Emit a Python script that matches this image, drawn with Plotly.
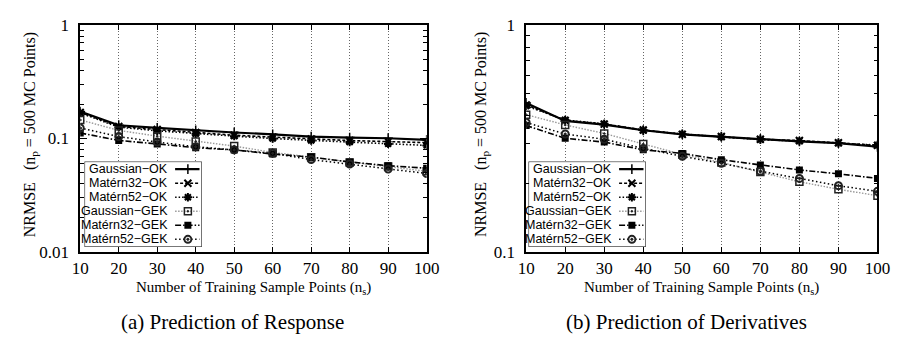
import plotly.graph_objects as go

W, H = 909, 349
x_vals = [10, 20, 30, 40, 50, 60, 70, 80, 90, 100]
series_names = ["Gaussian−OK", "Matérn32−OK", "Matérn52−OK",
                "Gaussian−GEK", "Matérn32−GEK", "Matérn52−GEK"]

# (a) Prediction of Response
resp_gauss_ok = [0.173, 0.131, 0.124, 0.118, 0.113, 0.109, 0.104, 0.102, 0.1006, 0.0975]
resp_mat32_ok = [0.170, 0.128, 0.120, 0.113, 0.107, 0.103, 0.099, 0.096, 0.094, 0.092]
resp_mat52_ok = [0.168, 0.126, 0.117, 0.110, 0.105, 0.100, 0.096, 0.093, 0.090, 0.087]
resp_gauss_gek = [0.146, 0.118, 0.105, 0.0944, 0.0858, 0.0755, 0.0685, 0.0615, 0.0566, 0.0514]
resp_mat32_gek = [0.112, 0.0962, 0.0897, 0.083, 0.0794, 0.0731, 0.0685, 0.0622, 0.0576, 0.0548]
resp_mat52_gek = [0.124, 0.104, 0.0932, 0.0847, 0.0794, 0.0741, 0.0652, 0.0596, 0.0538, 0.0492]

# (b) Prediction of Derivatives
der_gauss_ok = [0.454, 0.378, 0.364, 0.344, 0.330, 0.322, 0.315, 0.307, 0.302, 0.291]
der_mat32_ok = [0.445, 0.380, 0.366, 0.345, 0.330, 0.323, 0.314, 0.310, 0.303, 0.295]
der_mat52_ok = [0.440, 0.382, 0.367, 0.344, 0.331, 0.322, 0.313, 0.308, 0.302, 0.296]
der_gauss_gek = [0.403, 0.363, 0.333, 0.299, 0.269, 0.248, 0.225, 0.204, 0.189, 0.177]
der_mat32_gek = [0.361, 0.317, 0.305, 0.282, 0.272, 0.255, 0.242, 0.230, 0.221, 0.211]
der_mat52_gek = [0.372, 0.331, 0.314, 0.286, 0.264, 0.246, 0.227, 0.211, 0.196, 0.185]

resp = [resp_gauss_ok, resp_mat32_ok, resp_mat52_ok, resp_gauss_gek, resp_mat32_gek, resp_mat52_gek]
der = [der_gauss_ok, der_mat32_ok, der_mat52_ok, der_gauss_gek, der_mat32_gek, der_mat52_gek]

styles = [
    dict(line=dict(color="black", width=2.2, dash="solid"),
         marker=dict(symbol="cross-thin-open", size=7, color="black", line=dict(width=1.5, color="black"))),
    dict(line=dict(color="black", width=1.6, dash="3px,2px"),
         marker=dict(symbol="x-thin-open", size=7, color="black", line=dict(width=2, color="black"))),
    dict(line=dict(color="black", width=1.6, dash="1.5px,2px"),
         marker=dict(symbol="asterisk-open", size=7, color="black", line=dict(width=2, color="black"))),
    dict(line=dict(color="#999999", width=1.4, dash="1.5px,1.5px"),
         marker=dict(symbol="square-open-dot", size=7, color="#222222", line=dict(width=1.5, color="#222222"))),
    dict(line=dict(color="black", width=1.6, dash="6px,2px,1.5px,2px"),
         marker=dict(symbol="square", size=7, color="black", line=dict(width=0))),
    dict(line=dict(color="black", width=1.5, dash="1.5px,2.5px"),
         marker=dict(symbol="circle-open-dot", size=7, color="#222222", line=dict(width=2, color="#222222"))),
]

fig = go.Figure()
for i, name in enumerate(series_names):
    fig.add_trace(go.Scatter(x=x_vals, y=resp[i], mode="lines+markers", name=name,
                             showlegend=False, xaxis="x", yaxis="y", **styles[i]))
    fig.add_trace(go.Scatter(x=x_vals, y=der[i], mode="lines+markers", name=name,
                             showlegend=False, xaxis="x2", yaxis="y2", **styles[i]))

# custom legend samples (text left, sample right)
for i, name in enumerate(series_names):
    yy = 5.5 - i
    for ax in ("3", "4"):
        fig.add_trace(go.Scatter(x=[0.775, 0.885, 0.985], y=[yy, yy, yy], mode="lines",
                                 line=styles[i]["line"], showlegend=False, hoverinfo="skip",
                                 xaxis="x" + ax, yaxis="y" + ax))
        fig.add_trace(go.Scatter(x=[0.885], y=[yy], mode="markers", marker=styles[i]["marker"],
                                 showlegend=False, hoverinfo="skip",
                                 xaxis="x" + ax, yaxis="y" + ax))

serif = "Liberation Serif"
sans = "Liberation Sans"
ydom = [1 - 257 / H, 1 - 17 / H]

def xaxis(dom):
    return dict(domain=dom, range=[10, 100], tickvals=x_vals,
                ticktext=[str(v) for v in x_vals], showgrid=True, griddash="1px,2px",
                gridcolor="#666666", gridwidth=1, ticks="inside", ticklen=5,
                tickcolor="black", showline=True, linecolor="black", linewidth=1.5,
                mirror="ticks", tickfont=dict(family=serif, size=17, color="black"),
                zeroline=False)

def yaxis(dom, rng, tv, tt, minor_vals, anchor):
    return dict(domain=dom, type="log", range=rng, tickvals=tv, ticktext=tt,
                showgrid=False, ticks="inside", ticklen=7, tickcolor="black",
                showline=True, linecolor="black", linewidth=1.5, mirror="ticks",
                tickfont=dict(family=serif, size=17, color="black"), zeroline=False,
                anchor=anchor, ticklabelstandoff=6,
                minor=dict(tickvals=minor_vals, ticks="inside", ticklen=4,
                           tickcolor="black", showgrid=False))

minor_a = [m * 10 ** e for e in (-2, -1) for m in range(2, 10)]
minor_b = [m * 0.1 for m in range(2, 10)]

xa = xaxis([73 / W, 428 / W]); xa["anchor"] = "y"
xb = xaxis([530 / W, 890 / W]); xb["anchor"] = "y2"

leg_ydom = [1 - 251 / H, 1 - 162 / H]
hidden = dict(visible=False, range=[0, 1], fixedrange=True)
fig.update_layout(
    width=W, height=H, margin=dict(l=0, r=0, t=0, b=0),
    paper_bgcolor="white", plot_bgcolor="white",
    xaxis=xa, xaxis2=xb,
    yaxis=yaxis(ydom, [-2, 0], [0.01, 0.1, 1], ["0.01", "0.1", "1"], minor_a, "x"),
    yaxis2=yaxis(ydom, [-1, 0], [0.1, 1], ["0.1", "1"], minor_b, "x2"),
    xaxis3=dict(hidden, domain=[78 / W, 197 / W], anchor="y3"),
    yaxis3=dict(visible=False, range=[0, 6], fixedrange=True, domain=leg_ydom, anchor="x3"),
    xaxis4=dict(hidden, domain=[533 / W, 652 / W], anchor="y4"),
    yaxis4=dict(visible=False, range=[0, 6], fixedrange=True, domain=leg_ydom, anchor="x4"),
    showlegend=False,
)

shapes = []
for x0 in (78, 533):
    shapes.append(dict(type="rect", xref="paper", yref="paper",
                       x0=x0 / W, x1=(x0 + 119) / W, y0=leg_ydom[0], y1=leg_ydom[1],
                       line=dict(color="#333333", width=1.3), fillcolor="white", layer="below"))
fig.update_layout(shapes=shapes)

ann = []
for ax in ("3", "4"):
    for i, name in enumerate(series_names):
        ann.append(dict(x=0.735, y=5.5 - i, xref="x" + ax, yref="y" + ax, text=name,
                        showarrow=False, xanchor="right", yanchor="middle",
                        font=dict(family=sans, size=12.5, color="black")))

ytitle = "NRMSE\u00a0\u00a0\u00a0(n<sub>p</sub> = 500 MC Points)"
xtitle = "Number of Training Sample Points (n<sub>s</sub>)"
for cx in (22, 484):
    ann.append(dict(x=cx / W, y=1 - 133 / H, xref="paper", yref="paper", text=ytitle,
                    textangle=-90, showarrow=False, xanchor="center", yanchor="middle",
                    font=dict(family=serif, size=16, color="black")))
for cx in (251, 710):
    ann.append(dict(x=cx / W, y=1 - 295 / H, xref="paper", yref="paper", text=xtitle,
                    showarrow=False, xanchor="center", yanchor="middle",
                    font=dict(family=serif, size=15, color="black")))
for cx, t in ((229, "(a) Prediction of Response"), (694, "(b) Prediction of Derivatives")):
    ann.append(dict(x=cx / W, y=1 - 331 / H, xref="paper", yref="paper", text=t,
                    showarrow=False, xanchor="center", yanchor="middle",
                    font=dict(family=serif, size=21, color="black")))
fig.update_layout(annotations=ann)

fig.write_html("out.html")
